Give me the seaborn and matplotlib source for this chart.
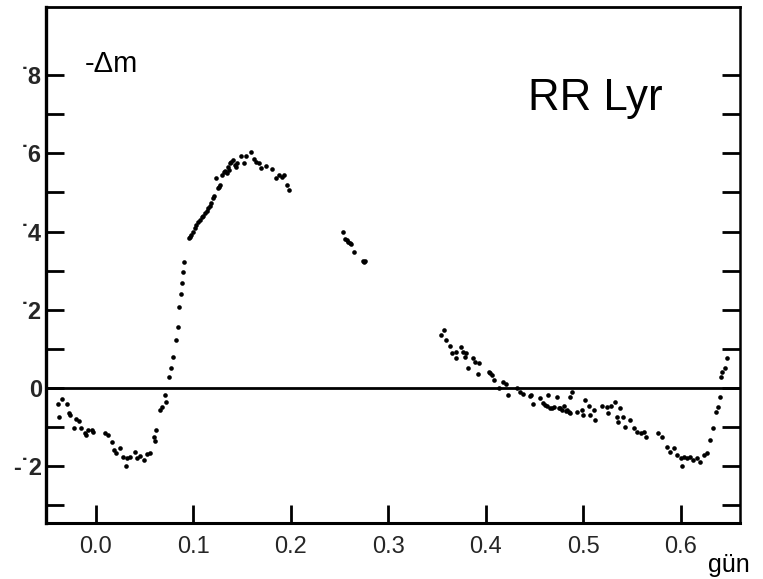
import matplotlib
matplotlib.use("Agg")
import matplotlib.pyplot as plt
import seaborn as sns
import pandas as pd

# ---- data (phase in days, -delta m in magnitudes) ----
phase = [
    -0.039, -0.035, -0.030, -0.038, -0.027, -0.028, -0.023, -0.021, -0.017, -0.015,
    -0.011, -0.008, -0.004, -0.003, -0.010, 0.009, 0.012, 0.016, 0.018, 0.025,
    0.021, 0.028, 0.032, 0.031, 0.035, 0.040, 0.042, 0.045, 0.049, 0.052,
    0.055, 0.061, 0.060, 0.062, 0.066, 0.068, 0.072, 0.071, 0.075, 0.077,
    0.079, 0.082, 0.084, 0.085, 0.087, 0.088, 0.089, 0.090, 0.095, 0.098,
    0.102, 0.103, 0.107, 0.109, 0.112, 0.115, 0.118, 0.120, 0.125, 0.127,
    0.123, 0.129, 0.131, 0.134, 0.136, 0.135, 0.139, 0.141, 0.143, 0.145,
    0.144, 0.149, 0.152, 0.154, 0.159, 0.162, 0.164, 0.167, 0.169, 0.174,
    0.181, 0.185, 0.188, 0.191, 0.193, 0.196, 0.198,
    0.096, 0.100, 0.105, 0.110, 0.114, 0.117, 0.121, 0.126, 0.132, 0.138,
    0.253, 0.256, 0.258, 0.259, 0.261, 0.262, 0.265, 0.274, 0.275, 0.276,
    0.357, 0.354, 0.359, 0.363, 0.365, 0.369, 0.370, 0.375, 0.377, 0.380,
    0.379, 0.382, 0.387, 0.389, 0.393, 0.392, 0.403, 0.406, 0.409, 0.404,
    0.418, 0.421, 0.414, 0.423, 0.432, 0.435, 0.438, 0.445, 0.449, 0.446,
    0.456, 0.459, 0.463, 0.464, 0.466, 0.470, 0.473, 0.475, 0.478, 0.480,
    0.483, 0.487, 0.487, 0.489, 0.494, 0.499, 0.500, 0.502, 0.506, 0.507,
    0.511, 0.512, 0.519, 0.524, 0.526, 0.529, 0.533, 0.535, 0.536, 0.538,
    0.541, 0.543, 0.548, 0.552, 0.555, 0.559, 0.562, 0.564, 0.577, 0.581,
    0.586, 0.589, 0.593, 0.596, 0.600, 0.601, 0.603, 0.607, 0.610, 0.613,
    0.617, 0.620, 0.624, 0.627, 0.630, 0.633, 0.636, 0.638, 0.640, 0.641,
    0.643, 0.646, 0.648,
    0.461, 0.468, 0.476, 0.482, 0.485,
]
dmag = [
    -0.041, -0.029, -0.041, -0.075, -0.069, -0.064, -0.103, -0.080, -0.084, -0.103,
    -0.114, -0.107, -0.106, -0.112, -0.120, -0.114, -0.120, -0.137, -0.159, -0.154,
    -0.167, -0.176, -0.180, -0.199, -0.176, -0.163, -0.180, -0.174, -0.184, -0.169,
    -0.165, -0.136, -0.125, -0.106, -0.056, -0.048, -0.035, -0.018, 0.029, 0.050,
    0.080, 0.123, 0.155, 0.206, 0.240, 0.268, 0.296, 0.323, 0.383, 0.391,
    0.408, 0.417, 0.430, 0.438, 0.447, 0.459, 0.472, 0.485, 0.511, 0.519,
    0.536, 0.545, 0.553, 0.549, 0.558, 0.566, 0.579, 0.583, 0.570, 0.574,
    0.566, 0.593, 0.574, 0.592, 0.604, 0.585, 0.579, 0.576, 0.562, 0.568,
    0.559, 0.536, 0.545, 0.540, 0.545, 0.519, 0.505,
    0.386, 0.400, 0.425, 0.441, 0.452, 0.466, 0.492, 0.515, 0.556, 0.575,
    0.398, 0.381, 0.378, 0.374, 0.370, 0.368, 0.347, 0.325, 0.323, 0.324,
    0.148, 0.136, 0.124, 0.107, 0.089, 0.093, 0.076, 0.104, 0.093, 0.090,
    0.080, 0.050, 0.076, 0.067, 0.063, 0.035, 0.042, 0.033, 0.020, 0.038,
    0.016, 0.010, -0.001, -0.018, -0.001, -0.009, -0.014, -0.020, -0.042, -0.018,
    -0.026, -0.039, -0.046, -0.018, -0.052, -0.048, -0.022, -0.052, -0.056, -0.046,
    -0.055, -0.063, -0.022, -0.009, -0.061, -0.056, -0.069, -0.031, -0.046, -0.069,
    -0.056, -0.082, -0.046, -0.049, -0.065, -0.046, -0.035, -0.073, -0.086, -0.052,
    -0.073, -0.099, -0.082, -0.103, -0.112, -0.116, -0.112, -0.125, -0.116, -0.125,
    -0.150, -0.163, -0.154, -0.171, -0.180, -0.199, -0.176, -0.180, -0.176, -0.184,
    -0.180, -0.188, -0.171, -0.167, -0.133, -0.103, -0.061, -0.048, -0.022, 0.029,
    0.042, 0.050, 0.078,
    -0.043, -0.050, -0.050, -0.058, -0.060,
]

xtick_values = [0.0, 0.1, 0.2, 0.3, 0.4, 0.5, 0.6]
xtick_labels = ["0.0", "0.1", "0.2", "0.3", "0.4", "0.5", "0.6"]
ytick_values = [-0.3, -0.2, -0.1, 0.0, 0.1, 0.2, 0.3, 0.4, 0.5, 0.6, 0.7, 0.8]
ytick_labels = ["", "-\u02d92", "", "0", "", "\u02d92", "", "\u02d94", "", "\u02d96", "", "\u02d98"]

df = pd.DataFrame({"phase": phase, "dmag": dmag})

sns.set_theme(style="white")
plt.rcParams["font.family"] = ["Liberation Sans", "DejaVu Sans"]

fig = plt.figure(figsize=(7.63, 5.79), dpi=100)
ax = fig.add_axes([0.0603, 0.0967, 0.9096, 0.8912])

sns.scatterplot(data=df, x="phase", y="dmag", ax=ax, color="black",
                s=11, linewidth=0, legend=False)
ax.axhline(0, color="black", lw=2.0, zorder=1)

ax.set_xlim(-0.0513, 0.661)
ax.set_ylim(-0.345, 0.974)

ax.set_xticks(xtick_values, xtick_labels)
ax.set_yticks(ytick_values, ytick_labels)
ax.tick_params(axis="x", direction="in", length=13, width=2, color="black",
               labelsize=17, pad=9, top=False, bottom=True)
ax.tick_params(axis="y", direction="in", length=13, width=2, color="black",
               labelsize=17, pad=3, left=True, right=True, labelright=False)
for lab in ax.get_yticklabels():
    lab.set_fontweight("bold")

for side, lw in [("left", 2.4), ("bottom", 2.2), ("top", 2.0), ("right", 1.8)]:
    ax.spines[side].set_visible(True)
    ax.spines[side].set_color("black")
    ax.spines[side].set_linewidth(lw)

ax.set_xlabel("")
ax.set_ylabel("")
ax.grid(False)

ax.text(0.056, 0.874, "-\u0394m", transform=ax.transAxes, fontsize=21,
        ha="left", va="baseline", color="black")
ax.text(0.6945, 0.800, "RR Lyr", transform=ax.transAxes, fontsize=31.5,
        ha="left", va="baseline", color="black")
fig.text(0.928, 0.012, "g\u00fcn", fontsize=18, ha="left", va="baseline",
         color="black")

fig.savefig("out.png", dpi=100, facecolor="white")
